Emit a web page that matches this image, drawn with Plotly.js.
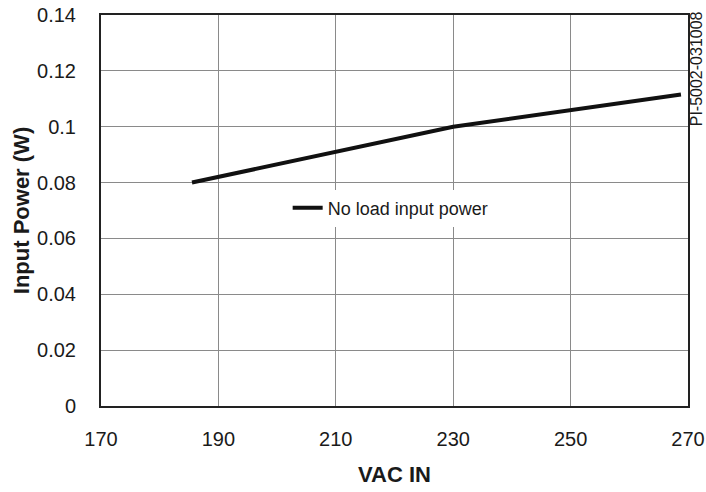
<!DOCTYPE html>
<html>
<head>
<meta charset="utf-8">
<script src="https://cdn.plot.ly/plotly-3.0.1.min.js"></script>
<style>html,body{margin:0;padding:0;background:#fff;}</style>
</head>
<body>
<div id="chart" style="width:706px;height:492px;"></div>
<script>
const vacIn = [185.5, 230, 268.8];
const inputPower = [0.080, 0.100, 0.1115];
const seriesName = "No load input power";
const xTicks = [170, 190, 210, 230, 250, 270];
const yTicks = [0, 0.02, 0.04, 0.06, 0.08, 0.1, 0.12, 0.14];
const yTickText = ["0", "0.02", "0.04", "0.06", "0.08", "0.1", "0.12", "0.14"];
const docId = "PI-5002-031008";

const font = "Liberation Sans, Arial, sans-serif";

Plotly.newPlot("chart", [{
  x: vacIn, y: inputPower, name: seriesName, type: "scatter", mode: "lines",
  line: {color: "#111", width: 4}
}], {
  width: 706, height: 492,
  margin: {l: 101, r: 18, t: 15, b: 86},
  paper_bgcolor: "#fff", plot_bgcolor: "#fff",
  font: {family: font, color: "#1a1a1a", size: 20},
  showlegend: true,
  legend: {x: 0.318, y: 0.506, xanchor: "left", yanchor: "middle", bgcolor: "#fff",
           font: {family: font, size: 18, color: "#1a1a1a"}},
  xaxis: {
    range: [170, 270], tickvals: xTicks, ticktext: xTicks.map(String),
    showgrid: true, gridcolor: "#8a8a8a", gridwidth: 1,
    showline: true, linecolor: "#222", linewidth: 2, mirror: true,
    ticks: "", ticklabelstandoff: 14, zeroline: false,
    tickfont: {family: font, size: 20, color: "#1a1a1a"},
    title: {text: "<b>VAC IN</b>", font: {family: font, size: 22, color: "#1a1a1a"}, standoff: 18}
  },
  yaxis: {
    range: [0, 0.14], tickvals: yTicks, ticktext: yTickText,
    showgrid: true, gridcolor: "#8a8a8a", gridwidth: 1,
    showline: true, linecolor: "#222", linewidth: 2, mirror: true,
    ticks: "", ticklabelstandoff: 19, zeroline: false,
    tickfont: {family: font, size: 20, color: "#1a1a1a"},
    title: {text: "<b>Input Power (W)</b>", font: {family: font, size: 22, color: "#1a1a1a"}, standoff: 1}
  },
  annotations: [{
    text: docId, xref: "paper", yref: "paper", x: 1.0136, y: 0.7115,
    xanchor: "center", yanchor: "bottom", textangle: -90, showarrow: false,
    font: {family: font, size: 16, color: "#1a1a1a"}
  }]
}, {displayModeBar: false, staticPlot: true});
</script>
</body>
</html>
